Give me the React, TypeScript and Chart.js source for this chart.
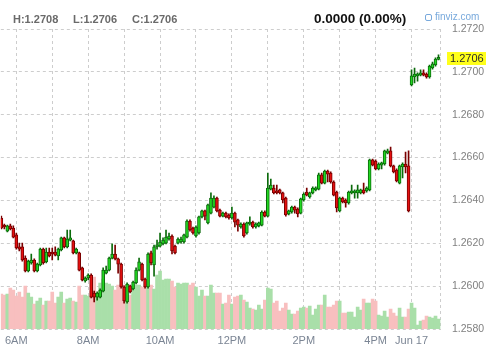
import React, { useEffect, useRef } from "react";
import { Chart, registerables } from "chart.js";

Chart.register(...registerables);

// ---- data (5-minute candles, index 0 = 5:35 AM) ----
const opens = [
  1.26318, 1.26281, 1.26257, 1.26281, 1.26271, 1.26239, 1.26183, 1.26183, 1.26131, 1.26071,
  1.26108, 1.26122, 1.26071, 1.26099, 1.26173, 1.26113, 1.26159, 1.26159, 1.26159, 1.26141,
  1.26169, 1.26225, 1.26183, 1.26215, 1.26211, 1.26155, 1.26155, 1.26085, 1.26024, 1.26038,
  1.26052, 1.25968, 1.25949, 1.25949, 1.25977, 1.26061, 1.26075, 1.26131, 1.26150, 1.26127,
  1.26103, 1.25996, 1.25926, 1.26001, 1.25987, 1.26015, 1.26075, 1.26103, 1.26033, 1.25996,
  1.26155, 1.26099, 1.26183, 1.26187, 1.26197, 1.26201, 1.26220, 1.26234, 1.26187, 1.26201,
  1.26206, 1.26206, 1.26229, 1.26304, 1.26271, 1.26234, 1.26248, 1.26323, 1.26351, 1.26295,
  1.26341, 1.26369, 1.26411, 1.26355, 1.26327, 1.26341, 1.26332, 1.26318, 1.26341, 1.26309,
  1.26276, 1.26290, 1.26248, 1.26290, 1.26299, 1.26276, 1.26281, 1.26285, 1.26346, 1.26327,
  1.26453, 1.26458, 1.26444, 1.26449, 1.26435, 1.26411, 1.26337, 1.26346, 1.26369, 1.26360,
  1.26341, 1.26402, 1.26439, 1.26416, 1.26435, 1.26449, 1.26453, 1.26519, 1.26481, 1.26537,
  1.26528, 1.26486, 1.26439, 1.26351, 1.26411, 1.26402, 1.26388, 1.26435, 1.26435, 1.26435,
  1.26435, 1.26449, 1.26444, 1.26449, 1.26589, 1.26584, 1.26547, 1.26565, 1.26570, 1.26621,
  1.26631, 1.26561, 1.26542, 1.26481, 1.26556, 1.26570, 1.26561, 1.26939, 1.26976, 1.26981,
  1.26985, 1.26995, 1.26990, 1.26976, 1.27018, 1.27032, 1.27058,
];
const highs = [
  1.26327, 1.26290, 1.26285, 1.26290, 1.26281, 1.26248, 1.26201, 1.26201, 1.26141, 1.26122,
  1.26150, 1.26127, 1.26108, 1.26178, 1.26178, 1.26178, 1.26178, 1.26178, 1.26183, 1.26178,
  1.26229, 1.26229, 1.26262, 1.26262, 1.26215, 1.26178, 1.26159, 1.26089, 1.26043, 1.26057,
  1.26057, 1.25977, 1.25973, 1.25987, 1.26085, 1.26094, 1.26136, 1.26197, 1.26192, 1.26131,
  1.26108, 1.26001, 1.26015, 1.26005, 1.26024, 1.26085, 1.26131, 1.26108, 1.26038, 1.26155,
  1.26164, 1.26192, 1.26215, 1.26248, 1.26225, 1.26262, 1.26248, 1.26239, 1.26192, 1.26225,
  1.26229, 1.26243, 1.26309, 1.26309, 1.26276, 1.26281, 1.26327, 1.26355, 1.26355, 1.26383,
  1.26435, 1.26421, 1.26416, 1.26360, 1.26346, 1.26346, 1.26337, 1.26369, 1.26346, 1.26313,
  1.26295, 1.26295, 1.26299, 1.26323, 1.26304, 1.26295, 1.26299, 1.26351, 1.26351, 1.26528,
  1.26500, 1.26472, 1.26472, 1.26453, 1.26439, 1.26416, 1.26355, 1.26374, 1.26374, 1.26365,
  1.26411, 1.26435, 1.26458, 1.26439, 1.26463, 1.26463, 1.26528, 1.26528, 1.26542, 1.26542,
  1.26533, 1.26491, 1.26444, 1.26416, 1.26416, 1.26407, 1.26444, 1.26472, 1.26449, 1.26472,
  1.26453, 1.26481, 1.26463, 1.26593, 1.26593, 1.26589, 1.26575, 1.26579, 1.26635, 1.26640,
  1.26649, 1.26565, 1.26547, 1.26565, 1.26575, 1.26626, 1.26631, 1.27009, 1.27018, 1.26995,
  1.27009, 1.27009, 1.26995, 1.27032, 1.27046, 1.27065, 1.27080,
];
const lows = [
  1.26267, 1.26267, 1.26253, 1.26262, 1.26225, 1.26173, 1.26164, 1.26117, 1.26066, 1.26066,
  1.26103, 1.26066, 1.26066, 1.26094, 1.26103, 1.26108, 1.26136, 1.26122, 1.26141, 1.26122,
  1.26164, 1.26178, 1.26178, 1.26211, 1.26150, 1.26150, 1.26071, 1.26024, 1.26019, 1.26029,
  1.25945, 1.25926, 1.25935, 1.25945, 1.25973, 1.26057, 1.26071, 1.26127, 1.26122, 1.26061,
  1.25991, 1.25921, 1.25921, 1.25968, 1.25982, 1.26010, 1.26071, 1.26024, 1.25991, 1.25991,
  1.26099, 1.26047, 1.26173, 1.26183, 1.26192, 1.26197, 1.26215, 1.26150, 1.26150, 1.26197,
  1.26201, 1.26201, 1.26225, 1.26257, 1.26243, 1.26229, 1.26243, 1.26318, 1.26309, 1.26290,
  1.26337, 1.26365, 1.26346, 1.26323, 1.26323, 1.26318, 1.26313, 1.26313, 1.26276, 1.26257,
  1.26271, 1.26229, 1.26243, 1.26285, 1.26271, 1.26271, 1.26276, 1.26281, 1.26323, 1.26323,
  1.26449, 1.26430, 1.26430, 1.26430, 1.26388, 1.26327, 1.26332, 1.26341, 1.26341, 1.26323,
  1.26337, 1.26397, 1.26421, 1.26411, 1.26430, 1.26444, 1.26449, 1.26477, 1.26477, 1.26486,
  1.26481, 1.26421, 1.26346, 1.26346, 1.26388, 1.26369, 1.26383, 1.26430, 1.26411, 1.26411,
  1.26430, 1.26430, 1.26439, 1.26444, 1.26561, 1.26542, 1.26542, 1.26547, 1.26565, 1.26617,
  1.26556, 1.26528, 1.26486, 1.26477, 1.26505, 1.26528, 1.26346, 1.26934, 1.26948, 1.26957,
  1.26981, 1.26981, 1.26971, 1.26971, 1.27013, 1.27027, 1.27056,
];
const closes = [
  1.26271, 1.26276, 1.26281, 1.26267, 1.26229, 1.26178, 1.26173, 1.26122, 1.26071, 1.26117,
  1.26122, 1.26071, 1.26103, 1.26173, 1.26108, 1.26159, 1.26141, 1.26150, 1.26145, 1.26173,
  1.26225, 1.26183, 1.26220, 1.26225, 1.26155, 1.26173, 1.26075, 1.26029, 1.26038, 1.26052,
  1.25949, 1.25949, 1.25968, 1.25982, 1.26075, 1.26075, 1.26131, 1.26150, 1.26127, 1.26103,
  1.25996, 1.25931, 1.26010, 1.25973, 1.26019, 1.26075, 1.26113, 1.26029, 1.25996, 1.26150,
  1.26108, 1.26183, 1.26192, 1.26206, 1.26215, 1.26229, 1.26234, 1.26164, 1.26155, 1.26220,
  1.26220, 1.26239, 1.26304, 1.26262, 1.26248, 1.26276, 1.26323, 1.26351, 1.26327, 1.26379,
  1.26411, 1.26411, 1.26351, 1.26327, 1.26341, 1.26323, 1.26318, 1.26341, 1.26299, 1.26285,
  1.26290, 1.26234, 1.26295, 1.26299, 1.26276, 1.26290, 1.26295, 1.26346, 1.26327, 1.26458,
  1.26472, 1.26435, 1.26435, 1.26435, 1.26402, 1.26332, 1.26351, 1.26369, 1.26355, 1.26337,
  1.26407, 1.26430, 1.26425, 1.26435, 1.26458, 1.26458, 1.26519, 1.26481, 1.26537, 1.26523,
  1.26486, 1.26425, 1.26365, 1.26411, 1.26393, 1.26388, 1.26439, 1.26444, 1.26444, 1.26449,
  1.26449, 1.26435, 1.26458, 1.26589, 1.26565, 1.26547, 1.26570, 1.26575, 1.26631, 1.26631,
  1.26561, 1.26533, 1.26491, 1.26561, 1.26570, 1.26556, 1.26351, 1.26981, 1.26990, 1.26990,
  1.26995, 1.26985, 1.26976, 1.27027, 1.27037, 1.27060, 1.27060,
];
const volumes = [
  35, 34, 35, 41, 39, 33, 37, 32, 43, 36, 32, 25, 28, 31, 24, 28, 28, 37, 26, 32,
  37, 26, 30, 31, 28, 27, 43, 34, 34, 33, 38, 52, 32, 46, 50, 46, 45, 43, 39, 44,
  44, 44, 32, 34, 41, 44, 44, 42, 42, 42, 44, 40, 54, 58, 49, 50, 50, 48, 42, 46,
  45, 46, 46, 44, 46, 42, 33, 39, 33, 33, 44, 36, 36, 36, 25, 26, 34, 25, 32, 33,
  34, 29, 27, 21, 20, 19, 24, 20, 29, 41, 40, 26, 28, 18, 21, 26, 19, 15, 15, 18,
  21, 22, 21, 23, 14, 20, 24, 24, 34, 22, 22, 24, 28, 28, 16, 16, 17, 17, 12, 22,
  19, 30, 26, 26, 30, 28, 14, 13, 18, 12, 20, 16, 13, 21, 12, 12, 20, 26, 21, 4,
  8, 9, 13, 12, 11, 13, 10,
];
const xTickValues = [5, 17, 29, 41, 53, 65, 77, 89, 101, 113, 125, 137];
const xTickLabels = ["6AM", "", "8AM", "", "10AM", "", "12PM", "", "2PM", "", "4PM", "Jun 17"];
const yTickValues = [1.258, 1.26, 1.262, 1.264, 1.266, 1.268, 1.27, 1.272];
const headerHigh = "H:1.2708";
const headerLow = "L:1.2706";
const headerClose = "C:1.2706";
const headerChange = "0.0000 (0.00%)";

const FONT = 'Arial, "Liberation Sans", Helvetica, sans-serif';
const GRID = "#cdcdcd";

export default function App() {
  const ref = useRef<HTMLCanvasElement | null>(null);

  useEffect(() => {
    const canvas = ref.current;
    if (!canvas) return;
    const up = opens.map((o, i) => closes[i] >= o);
    const bodies = opens.map((o, i) => ({ x: i, y: [Math.min(o, closes[i]), Math.max(o, closes[i])] }));
    const wicks = lows.map((l, i) => ({ x: i, y: [l, highs[i]] }));
    const vols = volumes.map((v, i) => ({ x: i, y: v }));

    const borderPlugin = {
      id: "rightBorder",
      beforeDatasetsDraw(chart: any) {
        const { ctx, chartArea } = chart;
        ctx.save();
        ctx.strokeStyle = GRID;
        ctx.lineWidth = 1;
        ctx.setLineDash([3, 3]);
        ctx.beginPath();
        ctx.moveTo(chartArea.right - 0.5, chartArea.top);
        ctx.lineTo(chartArea.right - 0.5, chartArea.bottom);
        ctx.stroke();
        ctx.restore();
      },
    };
    const lastPlugin = {
      id: "lastLabel",
      afterDraw(chart: any) {
        const { ctx, chartArea } = chart;
        const val = closes[closes.length - 1];
        const py = Math.round(chart.scales.y.getPixelForValue(val));
        ctx.save();
        ctx.fillStyle = "#ffff1a";
        ctx.fillRect(chartArea.right + 6, py - 7, 39, 13);
        ctx.fillStyle = "#2a2a2a";
        ctx.font = "11px " + FONT;
        ctx.textBaseline = "middle";
        ctx.textAlign = "left";
        ctx.fillText(val.toFixed(4), chartArea.right + 9, py);
        ctx.restore();
      },
    };

    const chart = new Chart(canvas, {
      type: "bar",
      data: {
        datasets: [
          {
            label: "body",
            data: bodies as any,
            yAxisID: "y",
            backgroundColor: up.map((u) => (u ? "#22d822" : "#e51010")),
            borderColor: up.map((u) => (u ? "#0b6a0b" : "#7a0000")),
            borderWidth: 1,
            borderSkipped: false,
            barThickness: 3,
            maxBarThickness: 3,
            minBarLength: 2,
            grouped: false,
            order: 1,
          },
          {
            label: "wick",
            data: wicks as any,
            yAxisID: "y",
            backgroundColor: up.map((u) => (u ? "#0b6a0b" : "#7a0000")),
            borderWidth: 0,
            barThickness: 1,
            maxBarThickness: 1,
            grouped: false,
            order: 2,
          },
          {
            label: "volume",
            data: vols as any,
            yAxisID: "v",
            backgroundColor: up.map((u) => (u ? "#a9dfa9" : "#f8bfbf")),
            borderWidth: 0,
            barThickness: 3,
            maxBarThickness: 3,
            grouped: false,
            order: 3,
          },
        ],
      },
      options: {
        responsive: false,
        maintainAspectRatio: false,
        devicePixelRatio: 1,
        animation: false,
        events: [],
        layout: { padding: { top: 29, left: 0, right: 0, bottom: 0 } },
        plugins: { legend: { display: false }, tooltip: { enabled: false } },
        scales: {
          x: {
            type: "linear",
            min: -1 / 6,
            max: 147 - 1 / 6,
            offset: false,
            afterBuildTicks: (s: any) => {
              s.ticks = xTickValues.map((v) => ({ value: v }));
            },
            afterFit: (s: any) => {
              s.height = 24;
            },
            ticks: {
              autoSkip: false,
              maxRotation: 0,
              padding: 5,
              color: "#7b8594",
              font: { family: FONT, size: 11 },
              callback: (_v: any, i: number) => xTickLabels[i] ?? "",
            },
            grid: { color: GRID, drawTicks: false, offset: false },
            border: { display: false, dash: [3, 3] },
          },
          y: {
            type: "linear",
            position: "right",
            min: 1.258,
            max: 1.272,
            afterBuildTicks: (s: any) => {
              s.ticks = yTickValues.map((v) => ({ value: v }));
            },
            afterFit: (s: any) => {
              s.width = 48;
            },
            ticks: {
              padding: 11,
              color: "#808080",
              font: { family: FONT, size: 10.5 },
              callback: (v: any) => Number(v).toFixed(4),
            },
            grid: { color: GRID, drawTicks: false },
            border: { display: false, dash: [3, 3] },
          },
          v: {
            type: "linear",
            display: false,
            min: 0,
            max: 300,
          },
        },
      } as any,
      plugins: [borderPlugin, lastPlugin],
    });
    return () => chart.destroy();
  }, []);

  return (
    <div
      style={{
        position: "absolute",
        left: 0,
        top: 0,
        width: 489,
        height: 353,
        background: "#fff",
        fontFamily: FONT,
        overflow: "hidden",
      }}
    >
      <canvas
        ref={ref}
        width={489}
        height={353}
        style={{ position: "absolute", left: 0, top: 0, width: 489, height: 353 }}
      />
      <div style={{ position: "absolute", left: 13, top: 14, fontSize: 11, lineHeight: 1, fontWeight: "bold", color: "#6a6a6a", whiteSpace: "pre" }}>
        {headerHigh}
      </div>
      <div style={{ position: "absolute", left: 73, top: 14, fontSize: 11, lineHeight: 1, fontWeight: "bold", color: "#6a6a6a", whiteSpace: "pre" }}>
        {headerLow}
      </div>
      <div style={{ position: "absolute", left: 132, top: 14, fontSize: 11, lineHeight: 1, fontWeight: "bold", color: "#6a6a6a", whiteSpace: "pre" }}>
        {headerClose}
      </div>
      <div style={{ position: "absolute", left: 314, top: 12, fontSize: 13.5, lineHeight: 1, fontWeight: "bold", color: "#111", whiteSpace: "pre" }}>
        {headerChange}
      </div>
      <div style={{ position: "absolute", left: 425, top: 12, fontSize: 10, lineHeight: 1, color: "#78a9dc", whiteSpace: "pre", display: "flex", alignItems: "center" }}>
        <span
          style={{
            display: "inline-block",
            width: 5,
            height: 5,
            border: "1px solid #78a9dc",
            borderRadius: 2,
            marginRight: 3,
          }}
        />
        <span>finviz.com</span>
      </div>
    </div>
  );
}
